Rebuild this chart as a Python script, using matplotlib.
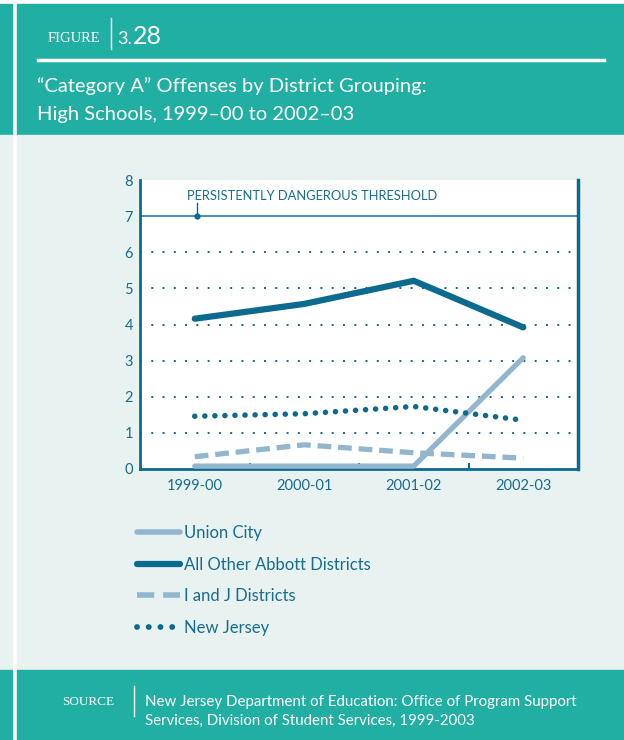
import matplotlib
matplotlib.use("Agg")
import matplotlib.pyplot as plt
from matplotlib.patches import Rectangle
from matplotlib.lines import Line2D

# data
years = ["1999-00", "2000-01", "2001-02", "2002-03"]
union_city = [0.08, 0.08, 0.08, 3.08]
other_abbott = [4.16, 4.57, 5.21, 3.92]
i_and_j = [0.34, 0.67, 0.45, 0.30]
new_jersey = [1.46, 1.53, 1.73, 1.35]
threshold = 7
y_ticks = [0, 1, 2, 3, 4, 5, 6, 7, 8]

TEAL = "#22afa3"
BODY = "#e8f2f0"
DARK = "#0d6a8f"
LIGHT = "#93b6cf"
TXT = "#176d8f"

W, H = 624, 740
fig = plt.figure(figsize=(W / 100, H / 100), dpi=100)
fig.patch.set_facecolor("white")
plt.rcParams['font.family'] = ['Lato', 'DejaVu Sans']


def box(x0, y0, x1, y1, color):
    # pixel box, y measured from top
    fig.patches.append(Rectangle((x0 / W, 1 - y1 / H), (x1 - x0) / W, (y1 - y0) / H,
                                 transform=fig.transFigure, color=color, zorder=-10))


def fx(x):
    return x / W


def fy(y):
    return 1 - y / H


# background panels
box(0, 4, 12, 135, TEAL)
box(0, 135, 12, 670, BODY)
box(0, 670, 12, 740, TEAL)
box(17, 4, 624, 135, TEAL)
box(17, 135, 624, 670, BODY)
box(17, 670, 624, 740, TEAL)

# header
fig.text(fx(48), fy(42), "FIGURE", family="Liberation Serif", fontsize=10.5,
         color="white", va="baseline", ha="left")
fig.add_artist(Line2D([fx(111), fx(111)], [fy(18), fy(49)], color="white", lw=1))
fig.text(fx(117), fy(44), "3.", fontsize=13, color="white", va="baseline", ha="left")
fig.text(fx(133), fy(44), "28", fontsize=18, color="white", va="baseline", ha="left")
fig.add_artist(Line2D([fx(38), fx(604)], [fy(60), fy(60)], color="white", lw=2.5))
fig.text(fx(37), fy(92), "\u201cCategory A\u201d Offenses by District Grouping:", fontsize=14.5,
         color="white", va="baseline", ha="left")
fig.text(fx(37), fy(120), "High Schools, 1999\u201300 to 2002\u201303", fontsize=14.5,
         color="white", va="baseline", ha="left")

# chart
ax = fig.add_axes([fx(140), fy(469), (578 - 140) / W, (469 - 180) / H])
ax.set_facecolor("white")
x = list(range(len(years)))

ax.plot(x, i_and_j, color=LIGHT, lw=3.8, dashes=(2.6, 1.3), solid_capstyle="butt", zorder=3)
ax.plot(x, union_city, color=LIGHT, lw=3.8, solid_capstyle="round", zorder=4)
ax.plot(x, other_abbott, color=DARK, lw=4.5, solid_capstyle="round", zorder=5)
ax.plot(x, new_jersey, color=DARK, lw=4.0, linestyle=(0, (0.01, 1.8)),
        dash_capstyle="round", zorder=5)

ax.set_xlim(-0.5, 3.5)
ax.set_ylim(0, 8)
ax.set_yticks(y_ticks)
ax.set_xticks(x)
ax.set_xticklabels(years)
ax.set_xticks([0.5, 1.5, 2.5], minor=True)
ax.tick_params(axis="both", which="major", length=0, labelsize=10.5, labelcolor=TXT, pad=5)
ax.tick_params(axis="x", which="minor", direction="in", length=4, width=1.5, color=DARK)
ax.tick_params(axis="x", which="major", pad=7)

for t in y_ticks[1:7]:
    ax.axhline(t, color=DARK, lw=1.4, linestyle=(0, (1, 4.8)), zorder=1)

ax.axhline(threshold, color="#3f87a8", lw=1.3, zorder=2)
ax.plot([0.02, 0.02], [threshold, 7.36], color=DARK, lw=1)
ax.plot([0.02], [threshold], marker="o", ms=3.5, color=DARK)
ax.text(-0.075, 7.4, "PERSISTENTLY DANGEROUS THRESHOLD", fontsize=9.3, color=TXT,
        ha="left", va="bottom")

for side in ["left", "bottom", "right"]:
    ax.spines[side].set_color(DARK)
    ax.spines[side].set_linewidth(2)
ax.spines["right"].set_linewidth(2.5)
ax.spines["top"].set_visible(False)

# legend
handles = [
    Line2D([], [], color=LIGHT, lw=4, solid_capstyle="round"),
    Line2D([], [], color=DARK, lw=4.5, solid_capstyle="round"),
    Line2D([], [], color=LIGHT, lw=4, dashes=(3.1, 1.6)),
    Line2D([], [], color=DARK, lw=4.2, linestyle=(0, (0.01, 2.0)), dash_capstyle="round"),
]
labels = ["Union City", "All Other Abbott Districts", "I and J Districts", "New Jersey"]
leg = fig.legend(handles, labels, loc="upper left", bbox_to_anchor=(fx(130), fy(518)),
                 frameon=False, fontsize=12, handlelength=2.6, handletextpad=0.25,
                 labelspacing=0.95, borderaxespad=0)
for t in leg.get_texts():
    t.set_color(TXT)

# footer
fig.text(fx(62), fy(705), "SOURCE", family="Liberation Serif", fontsize=9.5,
         color="white", va="baseline", ha="left")
fig.add_artist(Line2D([fx(134), fx(134)], [fy(686), fy(716)], color="white", lw=1))
fig.text(fx(145), fy(706), "New Jersey Department of Education: Office of Program Support",
         fontsize=10.8, color="white", va="baseline", ha="left")
fig.text(fx(145), fy(725), "Services, Division of Student Services, 1999-2003",
         fontsize=10.8, color="white", va="baseline", ha="left")

fig.savefig("out.png", dpi=100, facecolor=fig.get_facecolor())
